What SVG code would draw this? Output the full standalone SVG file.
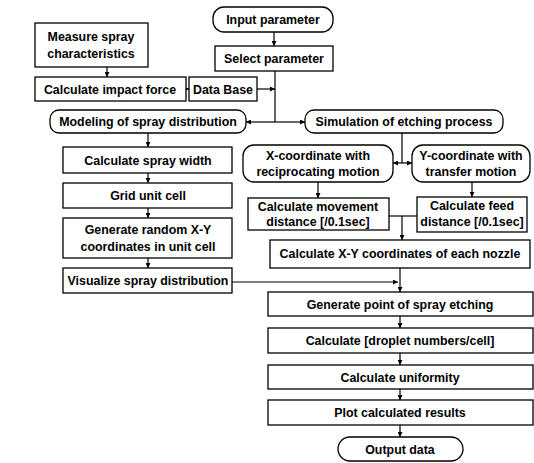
<svg xmlns="http://www.w3.org/2000/svg" width="534" height="463" viewBox="0 0 534 463">
<defs>
<marker id="ah" viewBox="0 0 8 8" refX="8" refY="4" markerWidth="5" markerHeight="5" orient="auto" markerUnits="userSpaceOnUse"><path d="M0,0 L8,4 L0,8 z" fill="#000"/></marker>
</defs>
<style>
.b{fill:#fff;stroke:#000;stroke-width:1.3}
.t{font-family:"Liberation Sans",Arial,sans-serif;font-weight:bold;font-size:12.4px;text-anchor:middle;fill:#000}
.c{fill:none;stroke:#000;stroke-width:1.2}
.a{marker-end:url(#ah)}
</style>
<rect width="534" height="463" fill="#fff"/>
<g id="connectors">
<path class="c a" d="M107,67 V77"/>
<path class="c a" d="M186,89 H189"/>
<path class="c a" d="M257,89 H275"/>
<path class="c a" d="M274,32 V46"/>
<path class="c" d="M275,71 V122"/>
<path class="c a" d="M275,122 H246"/>
<path class="c a" d="M275,122 H305"/>
<path class="c a" d="M148,133 V147"/>
<path class="c a" d="M148,173 V183"/>
<path class="c a" d="M148,208 V218"/>
<path class="c a" d="M148,258 V268"/>
<path class="c" d="M402,133 V163"/>
<path class="c a" d="M402,163 H393"/>
<path class="c a" d="M402,163 H412"/>
<path class="c a" d="M318,182 V198"/>
<path class="c a" d="M472,182 V197"/>
<path class="c" d="M389,216 H417"/>
<path class="c a" d="M402,216 V240"/>
<path class="c a" d="M232,282 H398"/>
<path class="c a" d="M400,268 V292"/>
<path class="c a" d="M400,316 V328"/>
<path class="c a" d="M400,353 V365"/>
<path class="c a" d="M400,389 V400"/>
<path class="c a" d="M400,425 V437"/>
</g>
<g id="measure"><rect class="b" x="35" y="23" width="113" height="44"/><text class="t" x="91" y="41">Measure spray</text><text class="t" x="91" y="58">characteristics</text></g>
<g id="impact"><rect class="b" x="35" y="77" width="151" height="24"/><text class="t" x="110" y="93.5">Calculate impact force</text></g>
<g id="database"><rect class="b" x="189" y="77" width="68" height="24"/><text class="t" x="223" y="93.5">Data Base</text></g>
<g id="input"><rect class="b" x="213" y="7" width="120" height="25" rx="11"/><text class="t" x="273" y="24">Input parameter</text></g>
<g id="select"><rect class="b" x="215" y="46" width="118" height="25"/><text class="t" x="274" y="63">Select parameter</text></g>
<g id="modeling"><rect class="b" x="50" y="110" width="196" height="23" rx="9"/><text class="t" x="148" y="126">Modeling of spray distribution</text></g>
<g id="simulation"><rect class="b" x="305" y="110" width="198" height="23" rx="9"/><text class="t" x="404" y="126">Simulation of etching process</text></g>
<g id="spraywidth"><rect class="b" x="63" y="147" width="169" height="26"/><text class="t" x="148" y="164.5">Calculate spray width</text></g>
<g id="grid"><rect class="b" x="63" y="183" width="169" height="25"/><text class="t" x="148" y="200">Grid unit cell</text></g>
<g id="random"><rect class="b" x="63" y="218" width="169" height="40"/><text class="t" x="148" y="234">Generate random X-Y</text><text class="t" x="148" y="251">coordinates in unit cell</text></g>
<g id="visualize"><rect class="b" x="63" y="268" width="169" height="25"/><text class="t" x="148" y="285">Visualize spray distribution</text></g>
<g id="xcoord"><rect class="b" x="243" y="145" width="150" height="37" rx="11"/><text class="t" x="318" y="160">X-coordinate with</text><text class="t" x="318" y="176">reciprocating motion</text></g>
<g id="ycoord"><rect class="b" x="412" y="145" width="118" height="37" rx="11"/><text class="t" x="471" y="160">Y-coordinate with</text><text class="t" x="471" y="176">transfer motion</text></g>
<g id="movement"><rect class="b" x="248" y="198" width="141" height="32"/><text class="t" x="318" y="211">Calculate movement</text><text class="t" x="318" y="226">distance  [/0.1sec]</text></g>
<g id="feed"><rect class="b" x="417" y="197" width="110" height="35"/><text class="t" x="472" y="210">Calculate feed</text><text class="t" x="472" y="226">distance [/0.1sec]</text></g>
<g id="xy"><rect class="b" x="270" y="240" width="260" height="28"/><text class="t" x="400" y="258">Calculate X-Y coordinates of each nozzle</text></g>
<g id="generate"><rect class="b" x="268" y="292" width="265" height="24"/><text class="t" x="400" y="308.5">Generate point of spray etching</text></g>
<g id="droplet"><rect class="b" x="268" y="328" width="265" height="25"/><text class="t" x="400" y="345">Calculate [droplet numbers/cell]</text></g>
<g id="uniformity"><rect class="b" x="268" y="365" width="265" height="24"/><text class="t" x="400" y="381.5">Calculate uniformity</text></g>
<g id="plot"><rect class="b" x="268" y="400" width="265" height="25"/><text class="t" x="400" y="417">Plot calculated results</text></g>
<g id="output"><rect class="b" x="338" y="437" width="125" height="24" rx="12"/><text class="t" x="400" y="453.5">Output data</text></g>
</svg>
